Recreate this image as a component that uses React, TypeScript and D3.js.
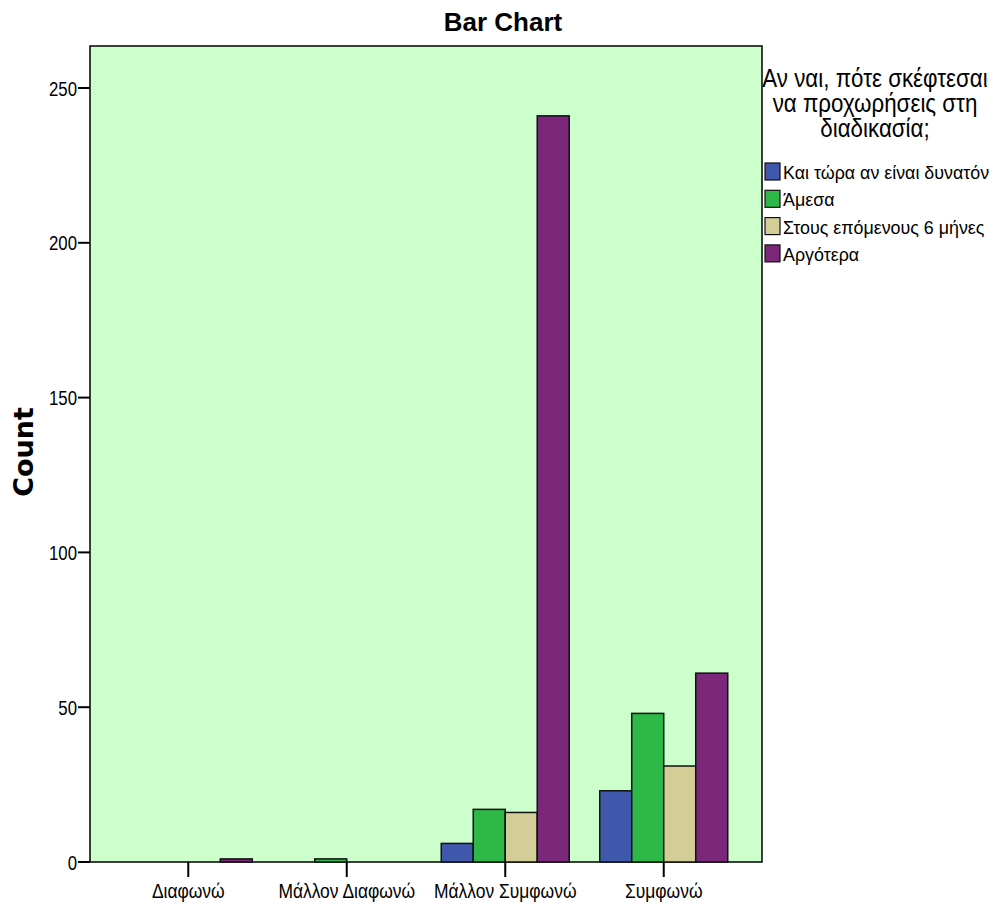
import React from "react";
import * as d3 from "d3";

// Response categories on the x axis
const categories = ["Διαφωνώ", "Μάλλον Διαφωνώ", "Μάλλον Συμφωνώ", "Συμφωνώ"];

// Legend groups (timing of proceeding with the process)
const seriesNames = [
  "Και τώρα αν είναι δυνατόν",
  "Άμεσα",
  "Στους επόμενους 6 μήνες",
  "Αργότερα",
];
const seriesColors = ["#3F58AC", "#2DB848", "#D3CD97", "#7B287B"];

// Counts per category, one array per series
const nowIfPossible = [0, 0, 6, 23];
const immediately = [0, 1, 17, 48];
const next6Months = [0, 0, 16, 31];
const later = [1, 0, 241, 61];
const seriesValues = [nowIfPossible, immediately, next6Months, later];

const yTicks = [0, 50, 100, 150, 200, 250];
const legendTitle = ["Αν ναι, πότε σκέφτεσαι", "να προχωρήσεις στη", "διαδικασία;"];

const W = 1006;
const H = 908;
const plot = { left: 90, right: 762, top: 46, bottom: 862 };
const sans = "'Liberation Sans', Arial, sans-serif";

// Text squeezed horizontally to mimic a condensed face
function Narrow({
  x,
  y,
  sx,
  anchor = "start",
  size,
  dy,
  children,
}: {
  x: number;
  y: number;
  sx: number;
  anchor?: string;
  size: number;
  dy?: string;
  children: React.ReactNode;
}) {
  return (
    <text
      transform={`translate(${x},${y}) scale(${sx},1)`}
      textAnchor={anchor}
      fontFamily={sans}
      fontSize={size}
      dy={dy}
    >
      {children}
    </text>
  );
}

export default function App() {
  const x = d3
    .scalePoint<string>()
    .domain(categories)
    .range([plot.left, plot.right])
    .padding(0.62);
  const y = d3.scaleLinear().domain([0, 250]).range([plot.bottom, 88]);
  const barW = 32;
  const inner = d3
    .scaleBand<number>()
    .domain(d3.range(seriesNames.length))
    .range([-barW * 2, barW * 2]);

  return (
    <svg
      width={W}
      height={H}
      style={{ position: "absolute", left: 0, top: 0, background: "#fff" }}
    >
      <text
        x={503}
        y={31}
        textAnchor="middle"
        fontFamily={sans}
        fontWeight="bold"
        fontSize={26}
      >
        Bar Chart
      </text>

      <rect
        x={plot.left}
        y={plot.top}
        width={plot.right - plot.left}
        height={plot.bottom - plot.top}
        fill="#CCFFCC"
        stroke="#000"
        strokeWidth={1.5}
      />

      {seriesValues.map((vals, si) =>
        vals.map((v, ci) =>
          v > 0 ? (
            <rect
              key={`${si}-${ci}`}
              x={(x(categories[ci]) as number) + (inner(si) as number)}
              y={y(v)}
              width={inner.bandwidth()}
              height={y(0) - y(v)}
              fill={seriesColors[si]}
              stroke="#111"
              strokeWidth={1.5}
            />
          ) : null
        )
      )}

      {/* y axis */}
      {yTicks.map((t) => (
        <g key={t}>
          <line
            x1={plot.left - 12}
            x2={plot.left}
            y1={y(t)}
            y2={y(t)}
            stroke="#000"
            strokeWidth={2}
          />
          <Narrow x={plot.left - 13} y={y(t)} sx={0.8} size={21} anchor="end" dy="0.36em">
            {t}
          </Narrow>
        </g>
      ))}

      {/* x axis */}
      {categories.map((c) => (
        <g key={c}>
          <line
            x1={x(c)}
            x2={x(c)}
            y1={plot.bottom}
            y2={plot.bottom + 15}
            stroke="#000"
            strokeWidth={2}
          />
          <Narrow x={x(c) as number} y={898} sx={0.83} size={21} anchor="middle">
            {c}
          </Narrow>
        </g>
      ))}

      <text
        transform="translate(33,452) rotate(-90)"
        textAnchor="middle"
        fontFamily="'DejaVu Sans', Verdana, sans-serif"
        fontWeight="bold"
        fontSize={27}
      >
        Count
      </text>

      {/* legend */}
      {legendTitle.map((line, i) => (
        <Narrow key={line} x={875} y={87 + i * 25} sx={0.86} size={26} anchor="middle">
          {line}
        </Narrow>
      ))}
      {seriesNames.map((name, i) => (
        <g key={name} transform={`translate(765,${163 + i * 27.3})`}>
          <rect width={15} height={17} fill={seriesColors[i]} stroke="#111" strokeWidth={1.2} />
          <Narrow x={18} y={16} sx={0.94} size={19}>
            {name}
          </Narrow>
        </g>
      ))}
    </svg>
  );
}
